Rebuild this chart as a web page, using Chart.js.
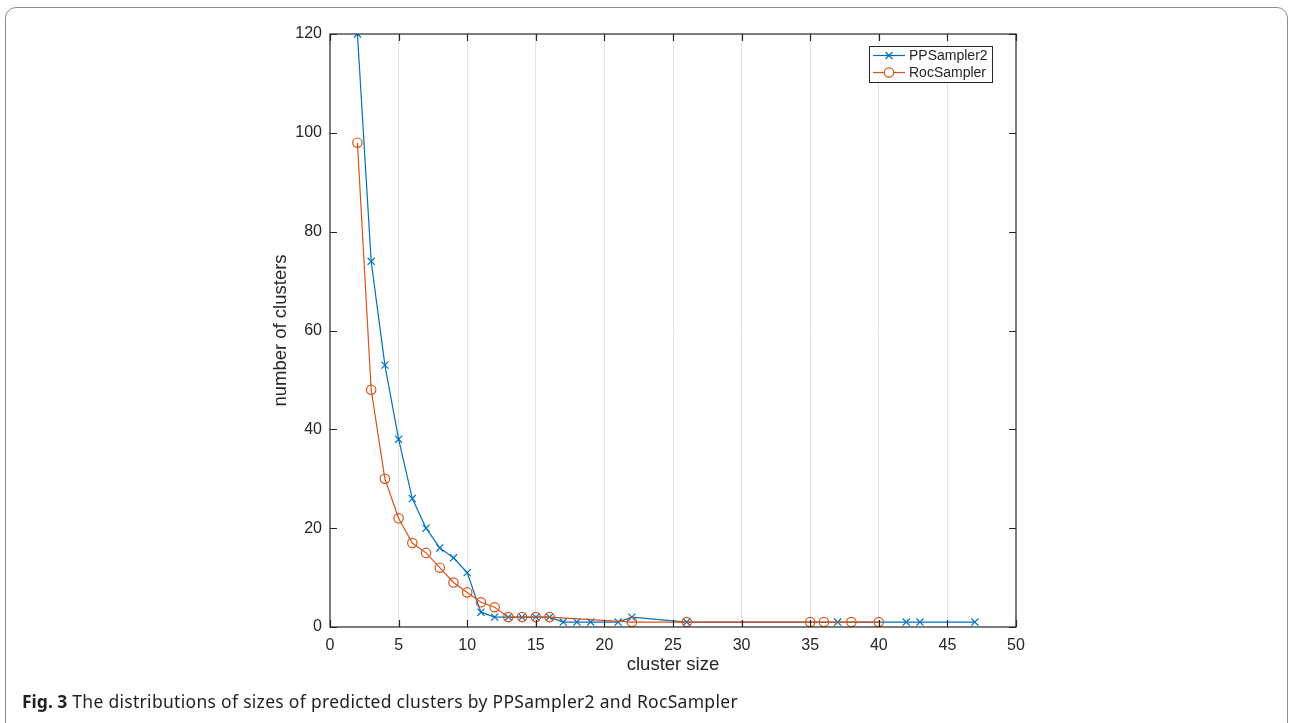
<!DOCTYPE html>
<html><head><meta charset="utf-8">
<script src="https://cdn.jsdelivr.net/npm/chart.js@4.4.1/dist/chart.umd.min.js"></script>
<style>
html,body{margin:0;padding:0;background:#fff;width:1290px;height:723px;overflow:hidden;}
#frame{position:absolute;left:5px;top:7px;width:1283px;height:780px;border:1.5px solid #8c8c8c;border-radius:11px;box-sizing:border-box;}
#wrap{position:absolute;left:0;top:0;width:1290px;height:723px;}
#caption{position:absolute;left:22px;top:691px;font-family:"Noto Sans",sans-serif;font-size:17.5px;letter-spacing:0.3px;line-height:20px;color:#231f20;white-space:nowrap;}
#caption b{font-weight:700;letter-spacing:0;}
</style></head>
<body>
<div id="frame"></div>
<div id="wrap"><canvas id="c" width="1290" height="723"></canvas></div>
<div id="caption"><b>Fig. 3</b> The distributions of sizes of predicted clusters by PPSampler2 and RocSampler</div>
<script>
// ---- data ----
const seriesNames = ["PPSampler2", "RocSampler"];
const ppSizes  = [2, 3, 4, 5, 6, 7, 8, 9, 10, 11, 12, 13, 14, 15, 16, 17, 18, 19, 21, 22, 26, 37, 42, 43, 47];
const ppCounts = [120, 74, 53, 38, 26, 20, 16, 14, 11, 3, 2, 2, 2, 2, 2, 1, 1, 1, 1, 2, 1, 1, 1, 1, 1];
const rocSizes  = [2, 3, 4, 5, 6, 7, 8, 9, 10, 11, 12, 13, 14, 15, 16, 22, 26, 35, 36, 38, 40];
const rocCounts = [98, 48, 30, 22, 17, 15, 12, 9, 7, 5, 4, 2, 2, 2, 2, 1, 1, 1, 1, 1, 1];
const xTickValues = [0, 5, 10, 15, 20, 25, 30, 35, 40, 45, 50];
const yTickValues = [0, 20, 40, 60, 80, 100, 120];
const xTitle = "cluster size";
const yTitle = "number of clusters";

// ---- styles ----
const BLUE = "#0072BD", ORANGE = "#D95319", AXIS = "#262626", GRID = "#e3e3e3";
const tickFont = {family: "'Liberation Sans', Arial, sans-serif", size: 16};
const titleFont = {family: "'Liberation Sans', Arial, sans-serif", size: 18.5};

const toPts = (xs, ys) => xs.map((x, i) => ({x, y: ys[i]}));

const matlabBox = {
  id: "matlabBox",
  afterDatasetsDraw(chart) {
    const {ctx, chartArea: a, scales} = chart;
    ctx.save();
    ctx.strokeStyle = AXIS;
    ctx.lineWidth = 1.2;
    ctx.strokeRect(a.left, a.top, a.right - a.left, a.bottom - a.top);
    const L = 7;
    ctx.beginPath();
    xTickValues.forEach(v => {
      const px = Math.round(scales.x.getPixelForValue(v)) + 0.5;
      ctx.moveTo(px, a.bottom); ctx.lineTo(px, a.bottom - L);
      ctx.moveTo(px, a.top); ctx.lineTo(px, a.top + L);
    });
    yTickValues.forEach(v => {
      const py = Math.round(scales.y.getPixelForValue(v)) + 0.5;
      ctx.moveTo(a.left, py); ctx.lineTo(a.left + L, py);
      ctx.moveTo(a.right, py); ctx.lineTo(a.right - L, py);
    });
    ctx.stroke();
    ctx.restore();
  },
  afterDraw(chart) {
    const {ctx, chartArea: a} = chart;
    const bx = a.right - 147, by = a.top + 12, bw = 123, bh = 36;
    ctx.save();
    ctx.fillStyle = "#fff";
    ctx.fillRect(bx, by, bw, bh);
    ctx.strokeStyle = AXIS;
    ctx.lineWidth = 1;
    ctx.strokeRect(bx + 0.5, by + 0.5, bw, bh);
    const rows = [
      {name: seriesNames[0], color: BLUE, style: "x", y: by + 9.5},
      {name: seriesNames[1], color: ORANGE, style: "o", y: by + 26.5}
    ];
    ctx.font = "14px 'Liberation Sans', Arial, sans-serif";
    ctx.textBaseline = "middle";
    rows.forEach(r => {
      ctx.strokeStyle = r.color;
      ctx.lineWidth = 1.2;
      ctx.beginPath();
      ctx.moveTo(bx + 4, r.y); ctx.lineTo(bx + 36, r.y);
      ctx.stroke();
      const cx = bx + 20;
      ctx.beginPath();
      if (r.style === "x") {
        const d = 3.5;
        ctx.moveTo(cx - d, r.y - d); ctx.lineTo(cx + d, r.y + d);
        ctx.moveTo(cx - d, r.y + d); ctx.lineTo(cx + d, r.y - d);
      } else {
        ctx.fillStyle = "#fff";
        ctx.arc(cx, r.y, 4.7, 0, Math.PI * 2);
        ctx.fill();
      }
      ctx.stroke();
      ctx.fillStyle = AXIS;
      ctx.fillText(r.name, bx + 40, r.y + 0.5);
    });
    ctx.restore();
  }
};

new Chart(document.getElementById("c"), {
  type: "scatter",
  data: {
    datasets: [
      {
        label: seriesNames[1], data: toPts(rocSizes, rocCounts), showLine: true,
        borderColor: ORANGE, backgroundColor: "rgba(0,0,0,0)", borderWidth: 1.2,
        pointStyle: "circle", pointRadius: 4.7, pointBorderWidth: 1.2,
        pointBorderColor: ORANGE, pointBackgroundColor: "rgba(0,0,0,0)",
        tension: 0, order: 0
      },
      {
        label: seriesNames[0], data: toPts(ppSizes, ppCounts), showLine: true,
        borderColor: BLUE, backgroundColor: "rgba(0,0,0,0)", borderWidth: 1.2,
        pointStyle: "crossRot", pointRadius: 5, pointBorderWidth: 1.2,
        pointBorderColor: BLUE, pointBackgroundColor: BLUE,
        tension: 0, order: 1
      }
    ]
  },
  options: {
    responsive: false,
    animation: false,
    devicePixelRatio: 1,
    layout: {padding: {left: 270, right: 274, top: 34, bottom: 0}},
    plugins: {legend: {display: false}, tooltip: {enabled: false}},
    scales: {
      x: {
        type: "linear", min: 0, max: 50,
        afterBuildTicks: s => { s.ticks = xTickValues.map(v => ({value: v})); },
        afterFit: s => { s.height = 96; },
        grid: {
          drawTicks: false,
          color: c => (c.tick && (c.tick.value === 0 || c.tick.value === 50)) ? "rgba(0,0,0,0)" : GRID,
          lineWidth: 1
        },
        border: {display: false},
        ticks: {font: tickFont, color: AXIS, padding: 9, maxRotation: 0, autoSkip: false},
        title: {display: true, text: xTitle, font: titleFont, color: AXIS, padding: {top: 0, bottom: 47}}
      },
      y: {
        type: "linear", min: 0, max: 120,
        afterBuildTicks: s => { s.ticks = yTickValues.map(v => ({value: v})); },
        afterFit: s => { s.width = 60; },
        grid: {display: false, drawTicks: false},
        border: {display: false},
        ticks: {font: tickFont, color: AXIS, padding: 8, autoSkip: false},
        title: {display: true, text: yTitle, font: titleFont, color: AXIS, padding: {top: 0, bottom: 0}}
      }
    }
  },
  plugins: [matlabBox]
});
</script>
</body></html>
